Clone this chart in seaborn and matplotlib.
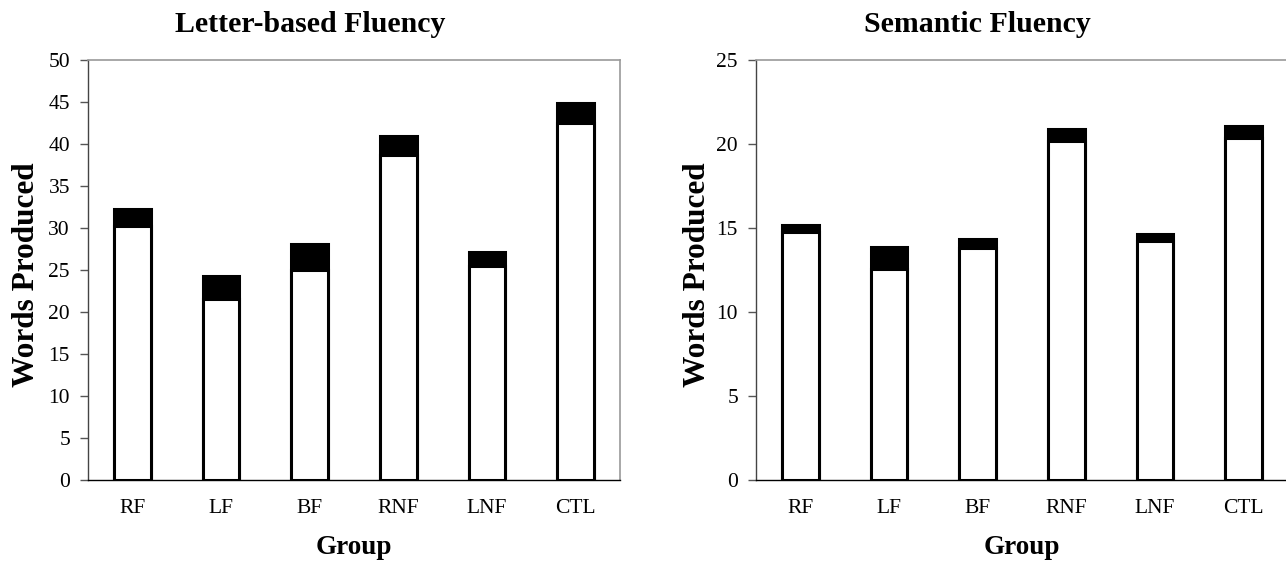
import matplotlib
matplotlib.use("Agg")
import matplotlib.pyplot as plt
import seaborn as sns
import numpy as np

groups = ["RF", "LF", "BF", "RNF", "LNF", "CTL"]

letter_mean = [30.2, 21.6, 25.0, 38.7, 25.5, 42.5]
letter_err = [2.1, 2.7, 3.1, 2.3, 1.6, 2.4]

semantic_mean = [14.75, 12.55, 13.8, 20.2, 14.25, 20.35]
semantic_err = [0.45, 1.3, 0.55, 0.7, 0.4, 0.75]

titles = ["Letter-based Fluency", "Semantic Fluency"]
ylims = [50, 25]
ysteps = [5, 5]

sns.set_theme(style="white")
plt.rcParams["font.family"] = ["Liberation Serif", "DejaVu Serif"]
for k in ["text.color", "axes.labelcolor", "xtick.color", "ytick.color"]:
    plt.rcParams[k] = "black"

W, H = 1286, 561
fig = plt.figure(figsize=(W / 100, H / 100), dpi=100)

ax_top = 60
ax_bot = 480
ax_w = 532
lefts = [88, 756]
title_cx = [310, 977]
ylabel_x = [27, 697]

datasets = [(letter_mean, letter_err), (semantic_mean, semantic_err)]

for i, (means, errs) in enumerate(datasets):
    ax = fig.add_axes([lefts[i] / W, 1 - ax_bot / H, ax_w / W, (ax_bot - ax_top) / H])
    totals = [m + e for m, e in zip(means, errs)]
    sns.barplot(x=groups, y=totals, color="black", edgecolor="black",
                linewidth=2.2, width=0.41, saturation=1, errorbar=None, ax=ax)
    sns.barplot(x=groups, y=means, color="white", edgecolor="black",
                linewidth=2.2, width=0.41, saturation=1, errorbar=None, ax=ax)
    ax.set_xlim(-0.5, 5.5)
    ax.set_ylim(0, ylims[i])
    ax.set_yticks(np.arange(0, ylims[i] + 0.1, ysteps[i]))
    ax.tick_params(axis="y", which="both", left=True, length=6, width=1,
                   color="#555555", labelcolor="black", pad=7, labelsize=15.5)
    ax.tick_params(axis="x", bottom=False, pad=8, labelsize=15.5, labelcolor="black")
    for s in ["top", "right"]:
        ax.spines[s].set_color("#9a9a9a")
        ax.spines[s].set_linewidth(1.2)
    ax.spines["left"].set_color("#444444")
    ax.spines["left"].set_linewidth(1.0)
    ax.spines["bottom"].set_color("black")
    ax.spines["bottom"].set_linewidth(1.0)
    ax.set_xlabel("Group", fontsize=19.5, fontweight="bold", va="center")
    ax.xaxis.set_label_coords(0.5, (ax_bot - 547) / (ax_bot - ax_top))
    ax.set_ylabel("Words Produced", fontsize=22.5, fontweight="bold", va="center")
    ax.yaxis.set_label_coords((ylabel_x[i] - lefts[i]) / ax_w, (ax_bot - 275) / (ax_bot - ax_top))
    fig.text(title_cx[i] / W, 1 - 25 / H, titles[i], ha="center", va="center",
             fontsize=21.5, fontweight="bold")

fig.savefig("out.png", dpi=100)
